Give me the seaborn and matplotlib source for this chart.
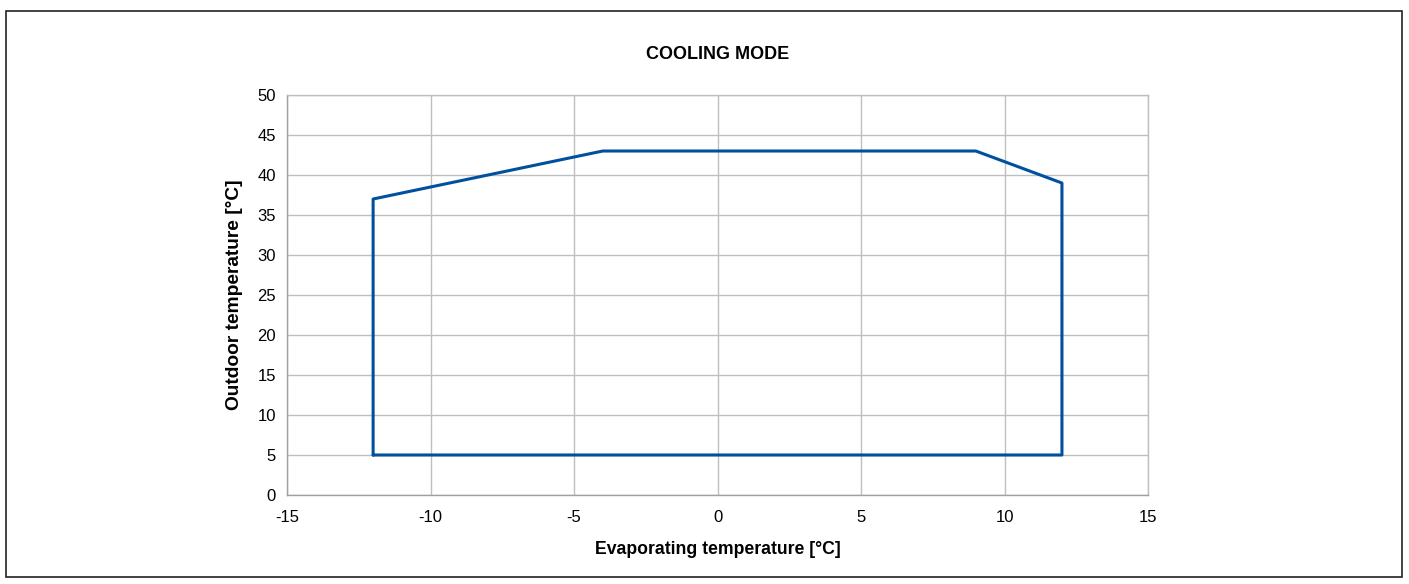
import matplotlib
matplotlib.use("Agg")
import matplotlib.pyplot as plt
import seaborn as sns
import pandas as pd
from matplotlib.patches import Rectangle

# envelope corners (evaporating temp, outdoor temp)
evap_temp = [-12, -12, -4, 9, 12, 12, -12]
outdoor_temp = [5, 37, 43, 43, 39, 5, 5]

x_ticks = [-15, -10, -5, 0, 5, 10, 15]
y_ticks = [0, 5, 10, 15, 20, 25, 30, 35, 40, 45, 50]

sns.set_theme(style="whitegrid")
plt.rcParams['font.family'] = ['Liberation Sans', 'DejaVu Sans']
plt.rcParams['axes.unicode_minus'] = False

df = pd.DataFrame({'evap': evap_temp, 'outdoor': outdoor_temp})

fig = plt.figure(figsize=(14.09, 5.84), dpi=100)
ax = fig.add_axes([0.2037, 0.1524, 0.6111, 0.6849])

sns.lineplot(data=df, x='evap', y='outdoor', sort=False, estimator=None,
             color='#0050A0', linewidth=2.2, ax=ax)

ax.set_xlim(-15, 15)
ax.set_ylim(0, 50)
ax.set_xticks(x_ticks)
ax.set_yticks(y_ticks)
ax.grid(True, color='#BFBFBF', linewidth=1)
for s in ax.spines.values():
    s.set_color('#BFBFBF')
    s.set_linewidth(1)
ax.spines['left'].set_color('#A0A0A0')
ax.spines['bottom'].set_color('#A0A0A0')
ax.tick_params(length=0, labelsize=12, colors='black')
ax.tick_params(axis='x', pad=11)
ax.tick_params(axis='y', pad=8)

ax.set_xlabel('Evaporating temperature [°C]', fontsize=12.7, fontweight='bold',
              labelpad=11, color='black')
ax.set_ylabel('Outdoor temperature [°C]', fontsize=13.8, fontweight='bold',
              color='black')
ax.yaxis.set_label_coords(-0.051, 0.5)
ax.set_title('COOLING MODE', fontsize=13, fontweight='bold', pad=26, color='black')

# outer frame
fig.patches.append(Rectangle((6 / 1409, 1 - 577 / 584), 1396 / 1409, 566 / 584,
                             transform=fig.transFigure, fill=False,
                             edgecolor='#222222', linewidth=1.2))

fig.savefig('out.png', dpi=100)
